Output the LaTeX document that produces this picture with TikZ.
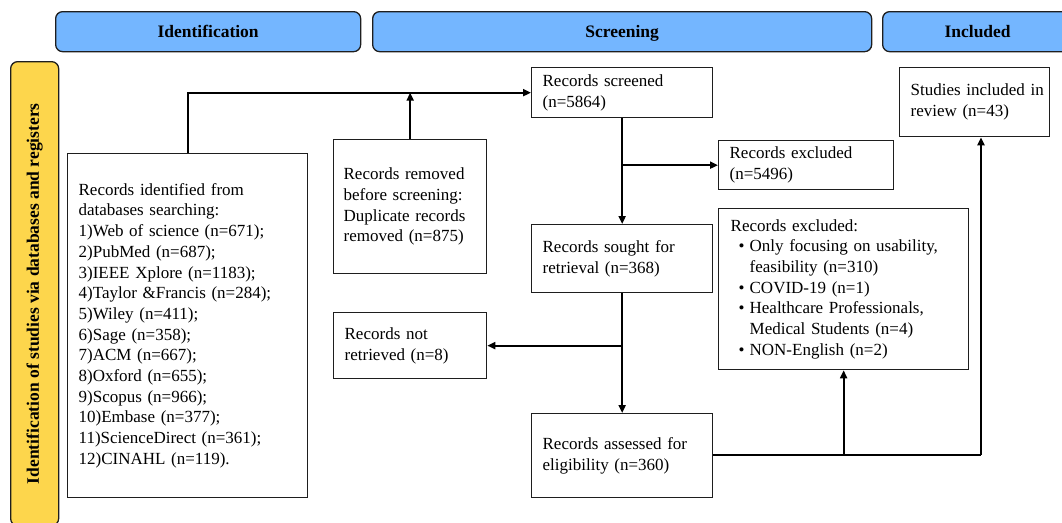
\documentclass[tikz,border=0pt]{standalone}
\usepackage{fontspec}
\setmainfont{Liberation Serif}
\usetikzlibrary{arrows.meta}
\definecolor{hdrblue}{RGB}{116,182,255}
\definecolor{sideyellow}{RGB}{253,214,76}
\definecolor{edge}{RGB}{30,30,30}
\tikzset{
  box/.style={draw=edge, line width=1.3pt, rectangle, anchor=north west, align=left,
    inner xsep=11pt, inner ysep=0pt, font=\fontsize{17}{20.7}\selectfont},
  hdr/.style={draw=edge, fill=hdrblue, line width=1.3pt, rounded corners=7pt, anchor=north west,
    inner sep=0pt, text height=12pt, text depth=0pt, font=\fontsize{17.5}{19}\selectfont\bfseries},
  side/.style={draw=edge, fill=sideyellow, line width=1.3pt, rounded corners=7pt, anchor=north west,
    inner sep=0pt},
  conn/.style={line width=2pt, draw=black},
  arr/.style={conn, -{Triangle[length=8pt,width=7pt]}}
}
\begin{document}
\begin{tikzpicture}[x=1pt,y=-1pt]
\useasboundingbox (0,0) rectangle (1062,522);
\begin{scope}
\clip (0,0) rectangle (1062,522);
\node[hdr, minimum width=305pt, minimum height=40pt] (hid) at (55,11) {Identification};
\node[hdr, minimum width=499pt, minimum height=40pt] (hsc) at (372,11) {Screening};
\node[hdr, minimum width=190pt, minimum height=40pt] (hin) at (882,11) {Included};
\node[side, minimum width=48pt, minimum height=464pt] (sid) at (10,61) {};
\node[rotate=90, font=\fontsize{17.5}{19}\selectfont\bfseries] (sidt) at (sid.center) {Identification of studies via databases and registers};
\end{scope}

\node[box, text width=218pt, minimum height=344pt] (ident) at (67,153)
 {Records identified from\\databases searching:\\1)Web of science (n=671);\\2)PubMed (n=687);\\3)IEEE Xplore (n=1183);\\4)Taylor \&Francis (n=284);\\5)Wiley (n=411);\\6)Sage (n=358);\\7)ACM (n=667);\\8)Oxford (n=655);\\9)Scopus (n=966);\\10)Embase (n=377);\\11)ScienceDirect (n=361);\\12)CINAHL (n=119).};
\node[box, inner xsep=10pt, text width=133pt, minimum height=134pt] (removed) at (333,139)
 {Records removed\\before screening:\\Duplicate records\\removed (n=875)};
\node[box, text width=159pt, minimum height=50pt] (screened) at (531,67)
 {Records screened\\(n=5864)};
\node[box, text width=153pt, minimum height=49pt] (excl1) at (718,140)
 {Records excluded\\(n=5496)};
\node[box, text width=159pt, minimum height=68pt] (sought) at (531,224)
 {Records sought for\\retrieval (n=368)};
\node[box, inner xsep=12pt, text width=226pt, minimum height=161pt] (excl2) at (718,208)
 {Records excluded:\\
  \makebox[19pt][l]{\hspace{8pt}\textbullet}Only focusing on usability,\\
  \hspace*{19pt}feasibility (n=310)\\
  \makebox[19pt][l]{\hspace{8pt}\textbullet}COVID-19 (n=1)\\
  \makebox[19pt][l]{\hspace{8pt}\textbullet}Healthcare Professionals,\\
  \hspace*{19pt}Medical Students (n=4)\\
  \makebox[19pt][l]{\hspace{8pt}\textbullet}NON-English (n=2)};
\node[box, text width=128pt, minimum height=69pt] (studies) at (899,67)
 {\makebox[128pt][l]{Studies included in}\\review (n=43)};
\node[box, text width=131pt, minimum height=66pt] (notret) at (333,312)
 {Records not\\retrieved (n=8)};
\node[box, text width=159pt, minimum height=84pt] (assessed) at (531,413)
 {Records assessed for\\eligibility (n=360)};

\draw[arr] (ident.north) |- (screened.west);
\draw[arr] (removed.north) -- (removed.north |- screened.west);
\draw[arr] (screened.south) -- (sought.north);
\draw[arr] (screened.south |- excl1.west) -- (excl1.west);
\draw[arr] (sought.south) -- (assessed.north);
\draw[arr] (sought.south |- notret.east) -- (notret.east);
\coordinate (j) at (981,455);
\draw[conn] (assessed.east |- j) -- (j);
\draw[arr] (assessed.east -| excl2.south) -- (excl2.south);
\draw[arr] (j) -- (j |- studies.south);
\end{tikzpicture}
\end{document}
